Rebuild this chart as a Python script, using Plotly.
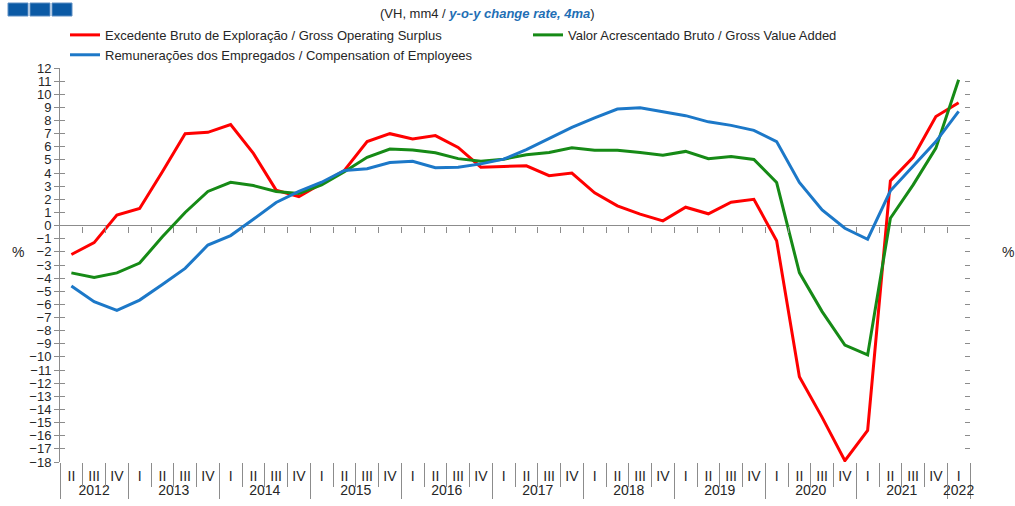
import plotly.graph_objects as go

# ---------------- data ----------------
ZW = "\u200b"  # zero-width marker so that 2012's partial year keeps I..IV order elsewhere
years = ["2012"] * 3 + [str(y) for y in range(2013, 2022) for _ in range(4)] + ["2022"]
quarters = ["II" + ZW, "III" + ZW, "IV" + ZW] + ["I", "II", "III", "IV"] * 9 + ["I"]

gos = [-2.2, -1.3, 0.8, 1.3, 4.1, 7.0, 7.1, 7.7, 5.5, 2.7,
       2.2, 3.2, 4.2, 6.4, 7.0, 6.6, 6.85, 5.95, 4.45, 4.5,
       4.55, 3.8, 4.0, 2.5, 1.5, 0.87, 0.36, 1.4, 0.9, 1.78,
       2.0, -1.15, -11.5, -14.6, -17.9, -15.6, 3.4, 5.2, 8.3, 9.35]
gva = [-3.6, -3.95, -3.6, -2.85, -0.85, 1.0, 2.6, 3.3, 3.05, 2.6,
       2.45, 3.1, 4.1, 5.2, 5.83, 5.75, 5.55, 5.1, 4.9, 5.06,
       5.4, 5.57, 5.93, 5.73, 5.73, 5.57, 5.35, 5.65, 5.1, 5.27,
       5.04, 3.28, -3.58, -6.55, -9.1, -9.85, 0.56, 3.1, 5.9, 11.1]
coe = [-4.6, -5.8, -6.45, -5.67, -4.48, -3.26, -1.48, -0.76, 0.48, 1.76,
       2.6, 3.3, 4.2, 4.33, 4.8, 4.9, 4.4, 4.45, 4.7, 5.06,
       5.78, 6.64, 7.48, 8.2, 8.88, 8.98, 8.65, 8.37, 7.9, 7.63,
       7.25, 6.4, 3.28, 1.2, -0.2, -1.04, 2.65, 4.5, 6.4, 8.7]

names = ["Excedente Bruto de Exploração / Gross Operating Surplus",
         "Valor Acrescentado Bruto / Gross Value Added",
         "Remunerações dos Empregados / Compensation of Employees"]
colors = ["#ff0000", "#168a16", "#1c78c8"]
legends = ["legend", "legend2", "legend"]
series = [gos, gva, coe]

y_min, y_max = -18, 12
n = len(years)

# ---------------- figure ----------------
W, H = 1015, 506
ml, mr, mt, mb = 60, 45, 68, 44
pw, ph = W - ml - mr, H - mt - mb
FONT = "Liberation Sans, Arial, sans-serif"
GRAY = "#8c8c8c"
TXT = "#262626"

fig = go.Figure()
for nm, c, s, lg in zip(names, colors, series, legends):
    fig.add_trace(go.Scatter(x=[years, quarters], y=s, name=nm, mode="lines",
                             line=dict(color=c, width=3), legend=lg))

# empty helper traces so that the decorative tick axes get drawn
for xa, ya in (("x2", "y"), ("x3", "y"), ("x", "y3"), ("x", "y4")):
    fig.add_trace(go.Scatter(x=[], y=[], xaxis=xa, yaxis=ya, showlegend=False,
                             hoverinfo="skip", mode="lines"))

zero_frac = (0 - y_min) / (y_max - y_min)
boundaries = [i + 0.5 for i in range(n - 1)]

def px_x(p):
    return (p - ml) / pw

def px_y(p):
    return 1 + (mt - p) / ph

leg_common = dict(orientation="v", xanchor="left", y=1.122, yanchor="top",
                  font=dict(size=13, color=TXT), itemwidth=30, tracegroupgap=0,
                  bgcolor="rgba(0,0,0,0)")

fig.update_layout(
    width=W, height=H,
    margin=dict(l=ml, r=mr, t=mt, b=mb, autoexpand=False),
    paper_bgcolor="white", plot_bgcolor="white",
    font=dict(family=FONT, size=13, color=TXT),
    showlegend=True,
    legend=dict(x=px_x(65), **leg_common),
    legend2=dict(x=px_x(528), **leg_common),
    xaxis=dict(type="multicategory",
               showgrid=False, showline=False, ticks="",
               tickfont=dict(size=14, color=TXT), showdividers=True,
               dividercolor=GRAY, dividerwidth=1, range=[-0.5, n - 0.5],
               ticklabelstandoff=4),
    xaxis2=dict(overlaying="x", anchor="free", position=zero_frac, range=[-0.5, n - 0.5],
                autorange=False, tickmode="array", tickvals=boundaries, ticks="outside",
                ticklen=6, tickcolor=GRAY, showticklabels=False, showgrid=False,
                showline=False, zeroline=False),
    xaxis3=dict(overlaying="x", anchor="y", side="bottom", range=[-0.5, n - 0.5],
                autorange=False, tickmode="array", tickvals=boundaries, ticks="outside",
                ticklen=24, tickcolor=GRAY, showticklabels=False, showgrid=False,
                showline=False, zeroline=False),
    yaxis=dict(range=[y_min, y_max], dtick=1, tick0=0, ticks="outside", ticklen=5,
               tickcolor=GRAY, showline=True, linecolor=GRAY, showgrid=False,
               zeroline=True, zerolinecolor=GRAY, zerolinewidth=1,
               tickfont=dict(size=13, color=TXT)),
    yaxis2=dict(overlaying="y", side="right", anchor="x", range=[y_min, y_max], dtick=1,
                tick0=0, ticks="outside", ticklen=5, tickcolor=GRAY, showline=True,
                linecolor=GRAY, showgrid=False, zeroline=False,
                tickfont=dict(size=13, color=TXT)),
    yaxis3=dict(overlaying="y", side="left", anchor="x", range=[y_min, y_max], dtick=1,
                autorange=False, tick0=0, ticks="inside", ticklen=5, tickcolor=GRAY,
                showline=False, showticklabels=False, showgrid=False, zeroline=False),
    yaxis4=dict(overlaying="y", side="right", anchor="x", range=[y_min, y_max], dtick=1,
                autorange=False, tick0=0, ticks="inside", ticklen=5, tickcolor=GRAY,
                showline=False, showticklabels=False, showgrid=False, zeroline=False),
)

# blue header squares
for x0 in (8, 30, 52):
    fig.add_shape(type="rect", xref="paper", yref="paper",
                  x0=px_x(x0), x1=px_x(x0 + 20), y0=px_y(16), y1=px_y(3),
                  fillcolor="#0b5aa5", line=dict(color="#5f8fc4", width=1))

fig.add_annotation(xref="paper", yref="paper", x=px_x(487), y=px_y(13),
                   xanchor="center", yanchor="middle", showarrow=False,
                   text="(VH, mm4 / <span style='color:#1f6fb5'><b><i>y-o-y change rate, 4ma</i></b></span>)",
                   font=dict(size=13, color=TXT))

for xp in (18, 1008):
    fig.add_annotation(xref="paper", yref="y", x=px_x(xp), y=-2, text="%",
                       showarrow=False, xanchor="center", yanchor="middle",
                       font=dict(size=14, color=TXT))

fig.write_html("out.html", config={"displayModeBar": False},
               post_script="document.body.style.margin='0';document.body.style.overflow='hidden';")
